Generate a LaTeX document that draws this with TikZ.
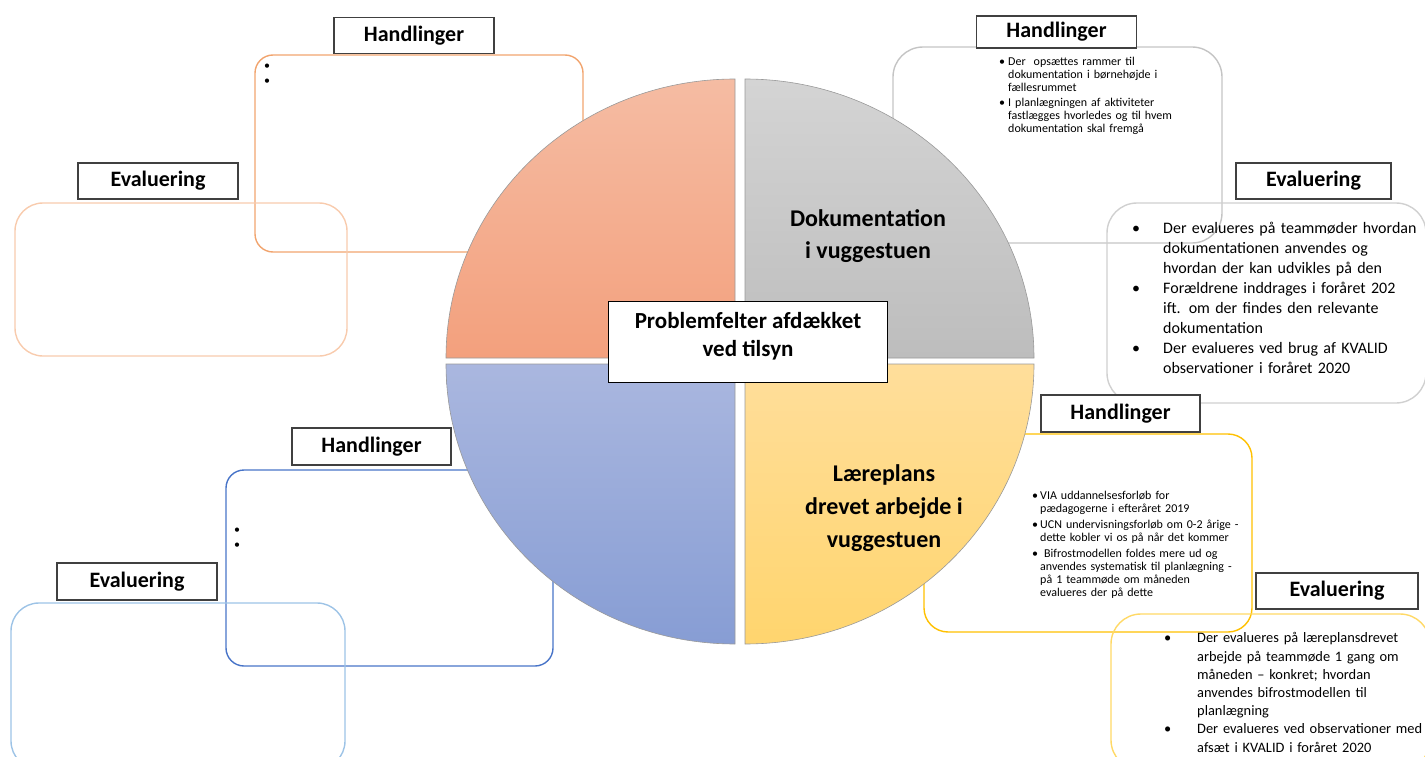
\documentclass[tikz,border=0pt]{standalone}
\usepackage{fontspec}
\setmainfont{Carlito}
\usepackage{tikz}
\usetikzlibrary{positioning}

\definecolor{orangeH}{RGB}{241,164,110}
\definecolor{orangeE}{RGB}{248,203,173}
\definecolor{graaH}{RGB}{196,196,196}
\definecolor{graaE}{RGB}{208,208,208}
\definecolor{blaaH}{RGB}{72,116,200}
\definecolor{blaaE}{RGB}{157,195,230}
\definecolor{guldH}{RGB}{255,192,0}
\definecolor{guldE}{RGB}{255,217,102}
\definecolor{kvOtop}{RGB}{245,188,163}
\definecolor{kvObund}{RGB}{243,160,125}
\definecolor{kvGtop}{RGB}{212,212,212}
\definecolor{kvGbund}{RGB}{189,189,189}
\definecolor{kvBtop}{RGB}{170,183,223}
\definecolor{kvBbund}{RGB}{135,157,212}
\definecolor{kvYtop}{RGB}{255,222,155}
\definecolor{kvYbund}{RGB}{255,213,110}

\newcommand{\punkt}[2]{\par\noindent\hangindent=#1\hangafter=1\makebox[#1][l]{\textbullet}#2\par}

\begin{document}
\begin{tikzpicture}[x=1pt,y=-1pt]
\tikzstyle{boks}=[draw, line width=1.4pt, rounded corners=20pt, inner sep=0pt]
\tikzstyle{titel}=[draw=black!75, fill=white, line width=1.3pt, minimum width=160pt, minimum height=36pt, inner sep=0pt, font=\fontsize{22}{26}\selectfont\bfseries]
\tikzstyle{kvart}=[draw=black!40, line width=0.6pt]
\tikzstyle{emne}=[align=center, inner sep=0pt]
\tikzstyle{tekst}=[anchor=north west, align=left, inner sep=0pt]

\useasboundingbox (0,0) rectangle (1425,757);
\clip (0,0) rectangle (1425,757);

\node[boks, draw=orangeH, rounded corners=18pt, minimum width=328pt, minimum height=197pt] (hTL) at (419,153.5) {};
\node[boks, draw=orangeE, rounded corners=28pt, minimum width=332pt, minimum height=153pt] (eTL) at (181,279.5) {};
\node[boks, draw=graaH, rounded corners=30pt, minimum width=329pt, minimum height=196pt] (hTR) at (1057.5,145) {};
\node[boks, draw=graaE, rounded corners=30pt, minimum width=319pt, minimum height=200pt] (eTR) at (1266.5,303) {};
\node[boks, draw=blaaH, rounded corners=18pt, minimum width=327pt, minimum height=196pt] (hBL) at (389.5,568) {};
\node[boks, draw=blaaE, rounded corners=28pt, minimum width=334pt, minimum height=166pt] (eBL) at (178,686) {};
\node[boks, draw=guldH, rounded corners=24pt, minimum width=328pt, minimum height=198pt] (hBR) at (1088,533) {};
\node[boks, draw=guldE, rounded corners=30pt, minimum width=319pt, minimum height=156pt] (eBR) at (1270.5,692) {};

\shadedraw[kvart, top color=kvOtop, bottom color=kvObund] (735,358) -- (446,358) arc[start angle=180, end angle=270, x radius=289, y radius=279] -- cycle;
\shadedraw[kvart, top color=kvGtop, bottom color=kvGbund] (745,358) -- (745,79) arc[start angle=270, end angle=360, x radius=289, y radius=279] -- cycle;
\shadedraw[kvart, top color=kvBtop, bottom color=kvBbund] (735,364) -- (735,644) arc[start angle=90, end angle=180, x radius=289, y radius=280] -- cycle;
\shadedraw[kvart, top color=kvYtop, bottom color=kvYbund] (745,364) -- (1034,364) arc[start angle=0, end angle=90, x radius=289, y radius=280] -- cycle;

\node[emne, font=\fontsize{24}{32}\selectfont\bfseries] (dok) at (868,236) {Dokumentation\\i vuggestuen};
\node[emne, font=\fontsize{24}{33}\selectfont\bfseries] (laere) at (884,508) {Læreplans\\drevet arbejde i\\vuggestuen};

\node[draw=black, fill=white, line width=1pt, minimum width=279pt, minimum height=81pt] (midte) at (748,342) {};
\node[emne, font=\fontsize{23}{28}\selectfont\bfseries] (midttekst) at (748,336) {Problemfelter afdækket\\ved tilsyn};

\node[titel] (tHTL) at (414,35.5) {Handlinger};
\node[titel] (tETL) at (158,181) {Evaluering};
\node[titel, minimum height=32pt] (tHTR) at (1056.5,32) {Handlinger};
\node[titel, minimum width=155pt] (tETR) at (1313.5,181) {Evaluering};
\node[titel, minimum width=159pt, minimum height=37pt] (tHBL) at (371.5,446.5) {Handlinger};
\node[titel, minimum height=37pt] (tEBL) at (137,581.5) {Evaluering};
\node[titel, minimum width=159pt, minimum height=37pt] (tHBR) at (1120.5,413.5) {Handlinger};
\node[titel, minimum width=162pt] (tEBR) at (1337,591) {Evaluering};

\node[tekst, font=\fontsize{12}{15}\selectfont] (pTL) at (264,64) {\textbullet\\\textbullet};
\node[tekst, font=\fontsize{12}{15}\selectfont] (pBL) at (234,528) {\textbullet\\\textbullet};

\node[tekst, text width=225pt, font=\fontsize{12}{13}\selectfont] (xHTR) at (999,50) {\setlength{\parskip}{2pt}%
\punkt{9pt}{Der~ opsættes rammer til\newline dokumentation i børnehøjde i\newline fællesrummet}
\punkt{9pt}{I planlægningen af aktiviteter\newline fastlægges hvorledes og til hvem\newline dokumentation skal fremgå}};

\node[tekst, text width=300pt, font=\fontsize{16}{20}\selectfont] (xETR) at (1132,213) {%
\punkt{31pt}{Der evalueres på teammøder hvordan\newline dokumentationen anvendes og\newline hvordan der kan udvikles på den}
\punkt{31pt}{Forældrene inddrages i foråret 202\newline ift. om der findes den relevante\newline dokumentation}
\punkt{31pt}{Der evalueres ved brug af KVALID\newline observationer i foråret 2020}};

\node[tekst, text width=230pt, font=\fontsize{12}{13}\selectfont] (xHBR) at (1032,483) {\setlength{\parskip}{3pt}%
\punkt{8pt}{VIA uddannelsesforløb for\newline pædagogerne i efteråret 2019}
\punkt{8pt}{UCN undervisningsforløb om 0-2 årige -\newline dette kobler vi os på når det kommer}
\punkt{8pt}{\ Bifrostmodellen foldes mere ud og\newline anvendes systematisk til planlægning -\newline på 1 teammøde om måneden\newline evalueres der på dette}};

\node[tekst, text width=300pt, font=\fontsize{14.4}{18.2}\selectfont] (xEBR) at (1164,624.5) {%
\punkt{33pt}{Der evalueres på læreplansdrevet\newline arbejde på teammøde 1 gang om\newline måneden – konkret; hvordan\newline anvendes bifrostmodellen til\newline planlægning}
\punkt{33pt}{Der evalueres ved observationer med\newline afsæt i KVALID i foråret 2020}};
\end{tikzpicture}
\end{document}
